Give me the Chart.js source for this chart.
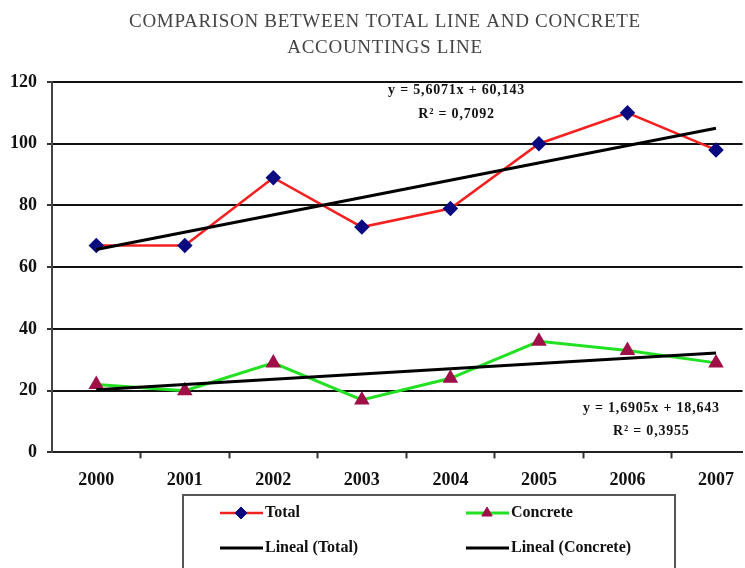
<!DOCTYPE html>
<html>
<head>
<meta charset="utf-8">
<script src="https://cdn.jsdelivr.net/npm/chart.js@4.4.0/dist/chart.umd.min.js"></script>
<style>
  html, body { margin: 0; padding: 0; background: #fff; }
  #wrap { position: relative; width: 745px; height: 568px; }
</style>
</head>
<body>
<div id="wrap"><canvas id="myChart" width="745" height="568"></canvas></div>
<script>
const years = ["2000", "2001", "2002", "2003", "2004", "2005", "2006", "2007"];
const totalValues = [67, 67, 89, 73, 79, 100, 110, 98];
const concreteValues = [22, 20, 29, 17, 24, 36, 33, 29];
const yTicks = [0, 20, 40, 60, 80, 100, 120];
const titleLines = ["COMPARISON BETWEEN TOTAL LINE AND CONCRETE", "ACCOUNTINGS LINE"];
const totalEquation = ["y = 5,6071x + 60,143", "R² = 0,7092"];
const concreteEquation = ["y = 1,6905x + 18,643", "R² = 0,3955"];

const SERIF = "'Liberation Serif', 'Times New Roman', serif";

// least squares fit, x = 1..n like the spreadsheet trendline
function linearFit(values) {
  const n = values.length;
  const xs = values.map((v, i) => i + 1);
  const mx = xs.reduce((a, b) => a + b, 0) / n;
  const my = values.reduce((a, b) => a + b, 0) / n;
  let sxy = 0, sxx = 0;
  xs.forEach((x, i) => {
    sxy += (x - mx) * (values[i] - my);
    sxx += (x - mx) * (x - mx);
  });
  const slope = sxy / sxx;
  const intercept = my - slope * mx;
  return [
    { x: 0, y: intercept + slope * 1 },
    { x: n - 1, y: intercept + slope * n },
  ];
}

const toPoints = (values) => values.map((v, i) => ({ x: i, y: v }));

const titlePlugin = {
  id: "titleText",
  afterDraw(chart) {
    const ctx = chart.ctx;
    ctx.save();
    ctx.fillStyle = "#444";
    ctx.font = "19px " + SERIF;
    ctx.letterSpacing = "0.7px";
    ctx.textAlign = "center";
    ctx.textBaseline = "middle";
    ctx.fillText(titleLines[0], 385, 22);
    ctx.fillText(titleLines[1], 385, 48);
    ctx.restore();
  },
};

const equationPlugin = {
  id: "equations",
  afterDatasetsDraw(chart) {
    const ctx = chart.ctx;
    const xs = chart.scales.x;
    const ys = chart.scales.y;
    ctx.save();
    ctx.fillStyle = "#111";
    ctx.font = "bold 14px " + SERIF;
    ctx.letterSpacing = "0.8px";
    ctx.textAlign = "center";
    ctx.textBaseline = "middle";
    let cx = xs.getPixelForValue(4.07);
    ctx.fillText(totalEquation[0], cx, ys.getPixelForValue(117.3));
    ctx.fillText(totalEquation[1], cx, ys.getPixelForValue(109.6));
    cx = xs.getPixelForValue(6.27);
    ctx.fillText(concreteEquation[0], cx, ys.getPixelForValue(14.3));
    ctx.fillText(concreteEquation[1], cx, ys.getPixelForValue(6.8));
    ctx.restore();
  },
};

const legendPlugin = {
  id: "boxLegend",
  afterDraw(chart) {
    const ctx = chart.ctx;
    const ds = chart.data.datasets;
    ctx.save();
    ctx.strokeStyle = "#555";
    ctx.lineWidth = 2;
    ctx.strokeRect(183, 495, 492, 80);
    const items = [
      { d: ds[2], x: 220, y: 513 },
      { d: ds[3], x: 466, y: 513 },
      { d: ds[0], x: 220, y: 548 },
      { d: ds[1], x: 466, y: 548 },
    ];
    items.forEach((it) => {
      ctx.strokeStyle = it.d.borderColor;
      ctx.lineWidth = it.d.borderWidth;
      ctx.beginPath();
      ctx.moveTo(it.x, it.y);
      ctx.lineTo(it.x + 43, it.y);
      ctx.stroke();
      if (it.d.pointRadius > 0) {
        ctx.fillStyle = it.d.pointBackgroundColor;
        ctx.strokeStyle = it.d.pointBorderColor;
        ctx.lineWidth = 1;
        Chart.helpers.drawPoint(ctx, {
          pointStyle: it.d.pointStyle,
          radius: it.d.pointRadius,
          rotation: 0,
          borderWidth: 1,
        }, it.x + 21, it.y);
      }
      ctx.fillStyle = "#111";
      ctx.font = "bold 16px " + SERIF;
      ctx.textAlign = "left";
      ctx.textBaseline = "middle";
      ctx.fillText(it.d.label, it.x + 45, it.y);
    });
    ctx.restore();
  },
};

const xTickValues = [];
for (let i = 0; i < years.length; i++) {
  xTickValues.push(i);
  if (i < years.length - 1) xTickValues.push(i + 0.5);
}

const ctx = document.getElementById("myChart").getContext("2d");
new Chart(ctx, {
  type: "line",
  data: {
    datasets: [
      {
        label: "Lineal (Total)",
        data: linearFit(totalValues),
        borderColor: "#000",
        borderWidth: 3,
        pointRadius: 0,
        order: 0,
      },
      {
        label: "Lineal (Concrete)",
        data: linearFit(concreteValues),
        borderColor: "#000",
        borderWidth: 3,
        pointRadius: 0,
        order: 0,
      },
      {
        label: "Total",
        data: toPoints(totalValues),
        borderColor: "#f42020",
        borderWidth: 2.5,
        pointStyle: "rectRot",
        pointRadius: 6,
        pointBackgroundColor: "#0a0a80",
        pointBorderColor: "#0a0a80",
        order: 1,
      },
      {
        label: "Concrete",
        data: toPoints(concreteValues),
        borderColor: "#22e022",
        borderWidth: 3,
        pointStyle: "triangle",
        pointRadius: 6,
        pointBackgroundColor: "#a01048",
        pointBorderColor: "#a01048",
        order: 1,
      },
    ],
  },
  options: {
    responsive: false,
    animation: false,
    layout: { autoPadding: false, padding: { top: 82, right: 0, bottom: 66, left: 0 } },
    plugins: {
      legend: { display: false },
      tooltip: { enabled: false },
      title: { display: false },
    },
    scales: {
      x: {
        type: "linear",
        min: -0.5,
        max: 7.3,
        afterBuildTicks(scale) {
          scale.ticks = xTickValues.map((v) => ({ value: v }));
        },
        ticks: {
          autoSkip: false,
          maxRotation: 0,
          padding: 11,
          color: "#111",
          font: { family: SERIF, size: 18, weight: "bold" },
          callback: (v) => (Number.isInteger(v) ? years[v] : ""),
        },
        grid: {
          drawOnChartArea: false,
          drawTicks: true,
          tickLength: 6,
          tickWidth: 2,
          tickColor: (c) => (c.tick && Number.isInteger(c.tick.value) ? "rgba(0,0,0,0)" : "#333"),
        },
        border: { color: "#222", width: 2 },
      },
      y: {
        min: 0,
        max: 120,
        afterBuildTicks(scale) {
          scale.ticks = yTicks.map((v) => ({ value: v }));
        },
        afterFit(scale) {
          scale.width = 52;
          scale.paddingTop = 0;
          scale.paddingBottom = 0;
        },
        ticks: {
          padding: 10,
          color: "#111",
          font: { family: SERIF, size: 18, weight: "bold" },
        },
        grid: {
          color: "#111",
          lineWidth: 2,
          tickLength: 5,
          tickColor: "#333",
        },
        border: { color: "#444", width: 2 },
      },
    },
  },
  plugins: [titlePlugin, equationPlugin, legendPlugin],
});
</script>
</body>
</html>
